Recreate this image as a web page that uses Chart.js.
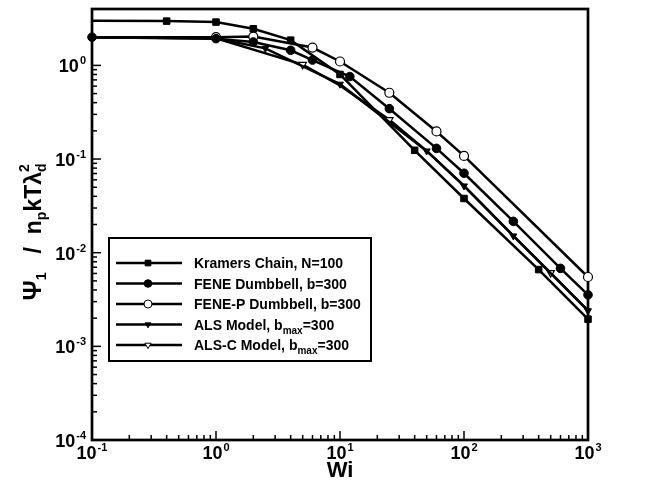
<!DOCTYPE html>
<html><head><meta charset="utf-8">
<script src="https://cdn.jsdelivr.net/npm/chart.js@4.4.1/dist/chart.umd.min.js"></script>
<style>html,body{margin:0;padding:0;background:#fff}#wrap{width:654px;height:485px}</style>
</head><body><div id="wrap"><canvas id="c" width="654" height="485"></canvas></div>
<script>
// ---------- data ----------
const xTickValues = [0.1, 1, 10, 100, 1000];
const xTickExps   = ['-1', '0', '1', '2', '3'];
const yTickValues = [1e-4, 1e-3, 1e-2, 1e-1, 1];
const yTickExps   = ['-4', '-3', '-2', '-1', '0'];

const seriesNames = ['Kramers Chain, N=100', 'FENE Dumbbell, b=300', 'FENE-P Dumbbell, b=300', 'ALS Model, b', 'ALS-C Model, b'];

const wiKramers  = [0.1, 0.4, 1, 2, 4, 10, 40, 100, 400, 1000];
const psiKramers = [3.0, 2.97, 2.9, 2.46, 1.86, 0.80, 0.124, 0.0379, 0.0066, 0.00195];

const wiFene  = [0.1, 1, 2, 4, 6, 12, 25, 60, 100, 250, 600, 1000];
const psiFene = [2.0, 1.93, 1.78, 1.45, 1.14, 0.76, 0.345, 0.13, 0.0705, 0.0216, 0.0068, 0.00355];

const wiFeneP  = [0.1, 1, 2, 6, 10, 25, 60, 100, 1000];
const psiFeneP = [2.0, 2.0, 2.03, 1.55, 1.1, 0.51, 0.197, 0.108, 0.0055];

const wiAls  = [0.1, 1, 2.5, 10, 50, 100, 250, 1000];
const psiAls = [2.0, 1.95, 1.52, 0.63, 0.122, 0.0516, 0.0151, 0.0024];

const wiAlsC  = [0.1, 1, 5, 10, 25, 50, 100, 250, 500, 1000];
const psiAlsC = [2.0, 1.95, 1.02, 0.61, 0.262, 0.122, 0.0516, 0.0151, 0.0061, 0.0024];
const alsCMarkedWi = [5, 25, 500];

// ---------- styling / helpers ----------
const FONT = "'Liberation Sans', Arial, Helvetica, sans-serif";
const pts = (xs, ys) => xs.map((x, i) => ({x: x, y: ys[i]}));

function base(label, xs, ys, style, fill, radius, hideFn) {
  return {
    label: label,
    data: pts(xs, ys),
    borderColor: '#000',
    borderWidth: 2.5,
    pointStyle: style,
    pointRotation: style === 'triangle' ? 180 : 0,
    pointBackgroundColor: fill,
    pointBorderColor: '#000',
    pointBorderWidth: fill === '#fff' ? 1.2 : 1,
    pointRadius: xs.map(w => hideFn(w) ? 0 : radius),
    pointHoverRadius: 0,
    tension: 0,
    fill: false,
    clip: false
  };
}

const datasets = [
  base(seriesNames[0], wiKramers, psiKramers, 'rect', '#000', 4.6, w => w === 0.1),
  base(seriesNames[1], wiFene, psiFene, 'circle', '#000', 4.3, w => false),
  base(seriesNames[2], wiFeneP, psiFeneP, 'circle', '#fff', 4.5, w => w === 0.1),
  base(seriesNames[3], wiAls, psiAls, 'triangle', '#000', 4, w => w === 0.1 || w === 1),
  base(seriesNames[4], wiAlsC, psiAlsC, 'triangle', '#fff', 4.3, w => alsCMarkedWi.indexOf(w) < 0)
];

function drawMarker(ctx, style, x, y, r, fill, bw) {
  ctx.save();
  ctx.beginPath();
  if (style === 'rect') {
    const s = Math.SQRT1_2 * r;
    ctx.rect(x - s, y - s, 2 * s, 2 * s);
  } else if (style === 'circle') {
    ctx.arc(x, y, r, 0, Math.PI * 2);
  } else {
    const c = Math.sqrt(3) / 2 * r;
    ctx.moveTo(x, y + r);
    ctx.lineTo(x - c, y - r / 2);
    ctx.lineTo(x + c, y - r / 2);
    ctx.closePath();
  }
  ctx.fillStyle = fill; ctx.fill();
  ctx.lineWidth = bw; ctx.strokeStyle = '#000'; ctx.stroke();
  ctx.restore();
}

function drawPow(ctx, exp, x, yBase, anchor) {
  ctx.font = 'bold 18px ' + FONT; const wb = ctx.measureText('10').width;
  ctx.font = 'bold 11px ' + FONT; const we = ctx.measureText(exp).width;
  const tot = wb + 1 + we;
  const x0 = anchor === 'center' ? x - tot / 2 : x - tot;
  ctx.textAlign = 'left'; ctx.textBaseline = 'alphabetic'; ctx.fillStyle = '#000';
  ctx.font = 'bold 18px ' + FONT; ctx.fillText('10', x0, yBase);
  ctx.font = 'bold 11px ' + FONT; ctx.fillText(exp, x0 + wb + 1, yBase - 8);
}

const decor = {
  id: 'decor',
  beforeDatasetsDraw(chart) {
    const ctx = chart.ctx, a = chart.chartArea, xs = chart.scales.x, ys = chart.scales.y;
    ctx.save();
    ctx.strokeStyle = '#000';
    ctx.lineWidth = 1.5;
    for (let e = -1; e <= 3; e++) {
      for (let k = 1; k <= 9; k++) {
        const v = k * Math.pow(10, e);
        if (v < xs.min * 0.999 || v > xs.max * 1.001) continue;
        const px = xs.getPixelForValue(v);
        const len = k === 1 ? 9 : 5;
        ctx.beginPath(); ctx.moveTo(px, a.bottom); ctx.lineTo(px, a.bottom - len); ctx.stroke();
      }
    }
    for (let e = -4; e <= 0; e++) {
      for (let k = 1; k <= 9; k++) {
        const v = k * Math.pow(10, e);
        if (v < ys.min * 0.999 || v > ys.max * 1.001) continue;
        const py = ys.getPixelForValue(v);
        const len = k === 1 ? 9 : 5;
        ctx.beginPath(); ctx.moveTo(a.left, py); ctx.lineTo(a.left + len, py); ctx.stroke();
      }
    }
    ctx.lineWidth = 2.7;
    ctx.strokeRect(a.left, a.top, a.right - a.left, a.bottom - a.top);
    ctx.restore();
  },
  afterDraw(chart) {
    const ctx = chart.ctx, a = chart.chartArea, xs = chart.scales.x, ys = chart.scales.y;
    ctx.save();
    xTickValues.forEach((v, i) => drawPow(ctx, xTickExps[i], xs.getPixelForValue(v), a.bottom + 19, 'center'));
    yTickValues.forEach((v, i) => drawPow(ctx, yTickExps[i], a.left - 6, ys.getPixelForValue(v) + 7, 'right'));
    ctx.font = 'bold 22px ' + FONT; ctx.textAlign = 'center'; ctx.fillStyle = '#000';
    ctx.fillText('Wi', (a.left + a.right) / 2, 477);
    // y title
    ctx.save();
    ctx.translate(41, 232);
    ctx.rotate(-Math.PI / 2);
    const big = 'bold 23px ' + FONT, small = 'bold 14px ' + FONT;
    const segs = [
      {t: 'Ψ', f: 'bold 25px ' + FONT, dy: 0},
      {t: '1', f: small, dy: 5},
      {t: '   /  ', f: big, dy: 0},
      {t: 'n', f: big, dy: 0},
      {t: 'p', f: small, dy: 5},
      {t: 'kTλ', f: big, dy: 0},
      {t: 'd', f: small, dy: 5, sup: '2'}
    ];
    let tot = 0;
    segs.forEach(s => { ctx.font = s.f; s.w = ctx.measureText(s.t).width; tot += s.w; });
    let cx = -tot / 2;
    ctx.textAlign = 'left';
    segs.forEach(s => {
      ctx.font = s.f; ctx.fillText(s.t, cx, s.dy);
      if (s.sup) ctx.fillText(s.sup, cx, -12);
      cx += s.w;
    });
    ctx.restore();
    // legend
    const L = {x: 109, y: 238, w: 262, h: 123};
    ctx.fillStyle = '#fff';
    ctx.fillRect(L.x, L.y, L.w, L.h);
    ctx.lineWidth = 2; ctx.strokeStyle = '#000';
    ctx.strokeRect(L.x, L.y, L.w, L.h);
    const rows = [263, 283.5, 304, 324.5, 345];
    const mk = [['rect', '#000', 4], ['circle', '#000', 3.8], ['circle', '#fff', 4], ['triangle', '#000', 3.3], ['triangle', '#fff', 3.6]];
    const tx = 194;
    rows.forEach((ry, i) => {
      ctx.lineWidth = 2.5;
      ctx.beginPath(); ctx.moveTo(116, ry); ctx.lineTo(182, ry); ctx.stroke();
      drawMarker(ctx, mk[i][0], 148, ry, mk[i][2], mk[i][1], 1);
      ctx.fillStyle = '#000'; ctx.textAlign = 'left';
      ctx.font = 'bold 14px ' + FONT;
      ctx.fillText(seriesNames[i], tx, ry + 5);
      if (i >= 3) {
        let w = ctx.measureText(seriesNames[i]).width;
        ctx.font = 'bold 10px ' + FONT;
        ctx.fillText('max', tx + w, ry + 9);
        w += ctx.measureText('max').width;
        ctx.font = 'bold 14px ' + FONT;
        ctx.fillText('=300', tx + w, ry + 5);
      }
    });
    ctx.restore();
  }
};

new Chart(document.getElementById('c'), {
  type: 'line',
  data: {datasets: datasets},
  options: {
    responsive: false,
    animation: false,
    devicePixelRatio: 1,
    layout: {padding: {left: 0, right: 66, top: 9, bottom: 0}},
    plugins: {legend: {display: false}, tooltip: {enabled: false}},
    scales: {
      x: {
        type: 'logarithmic', min: 0.1, max: 1000,
        ticks: {display: false}, grid: {display: false}, border: {display: false},
        afterFit(s) { s.height = 45; }
      },
      y: {
        type: 'logarithmic', min: 1e-4, max: 4,
        ticks: {display: false}, grid: {display: false}, border: {display: false},
        afterFit(s) { s.width = 92; }
      }
    }
  },
  plugins: [decor]
});
</script>
</body></html>
